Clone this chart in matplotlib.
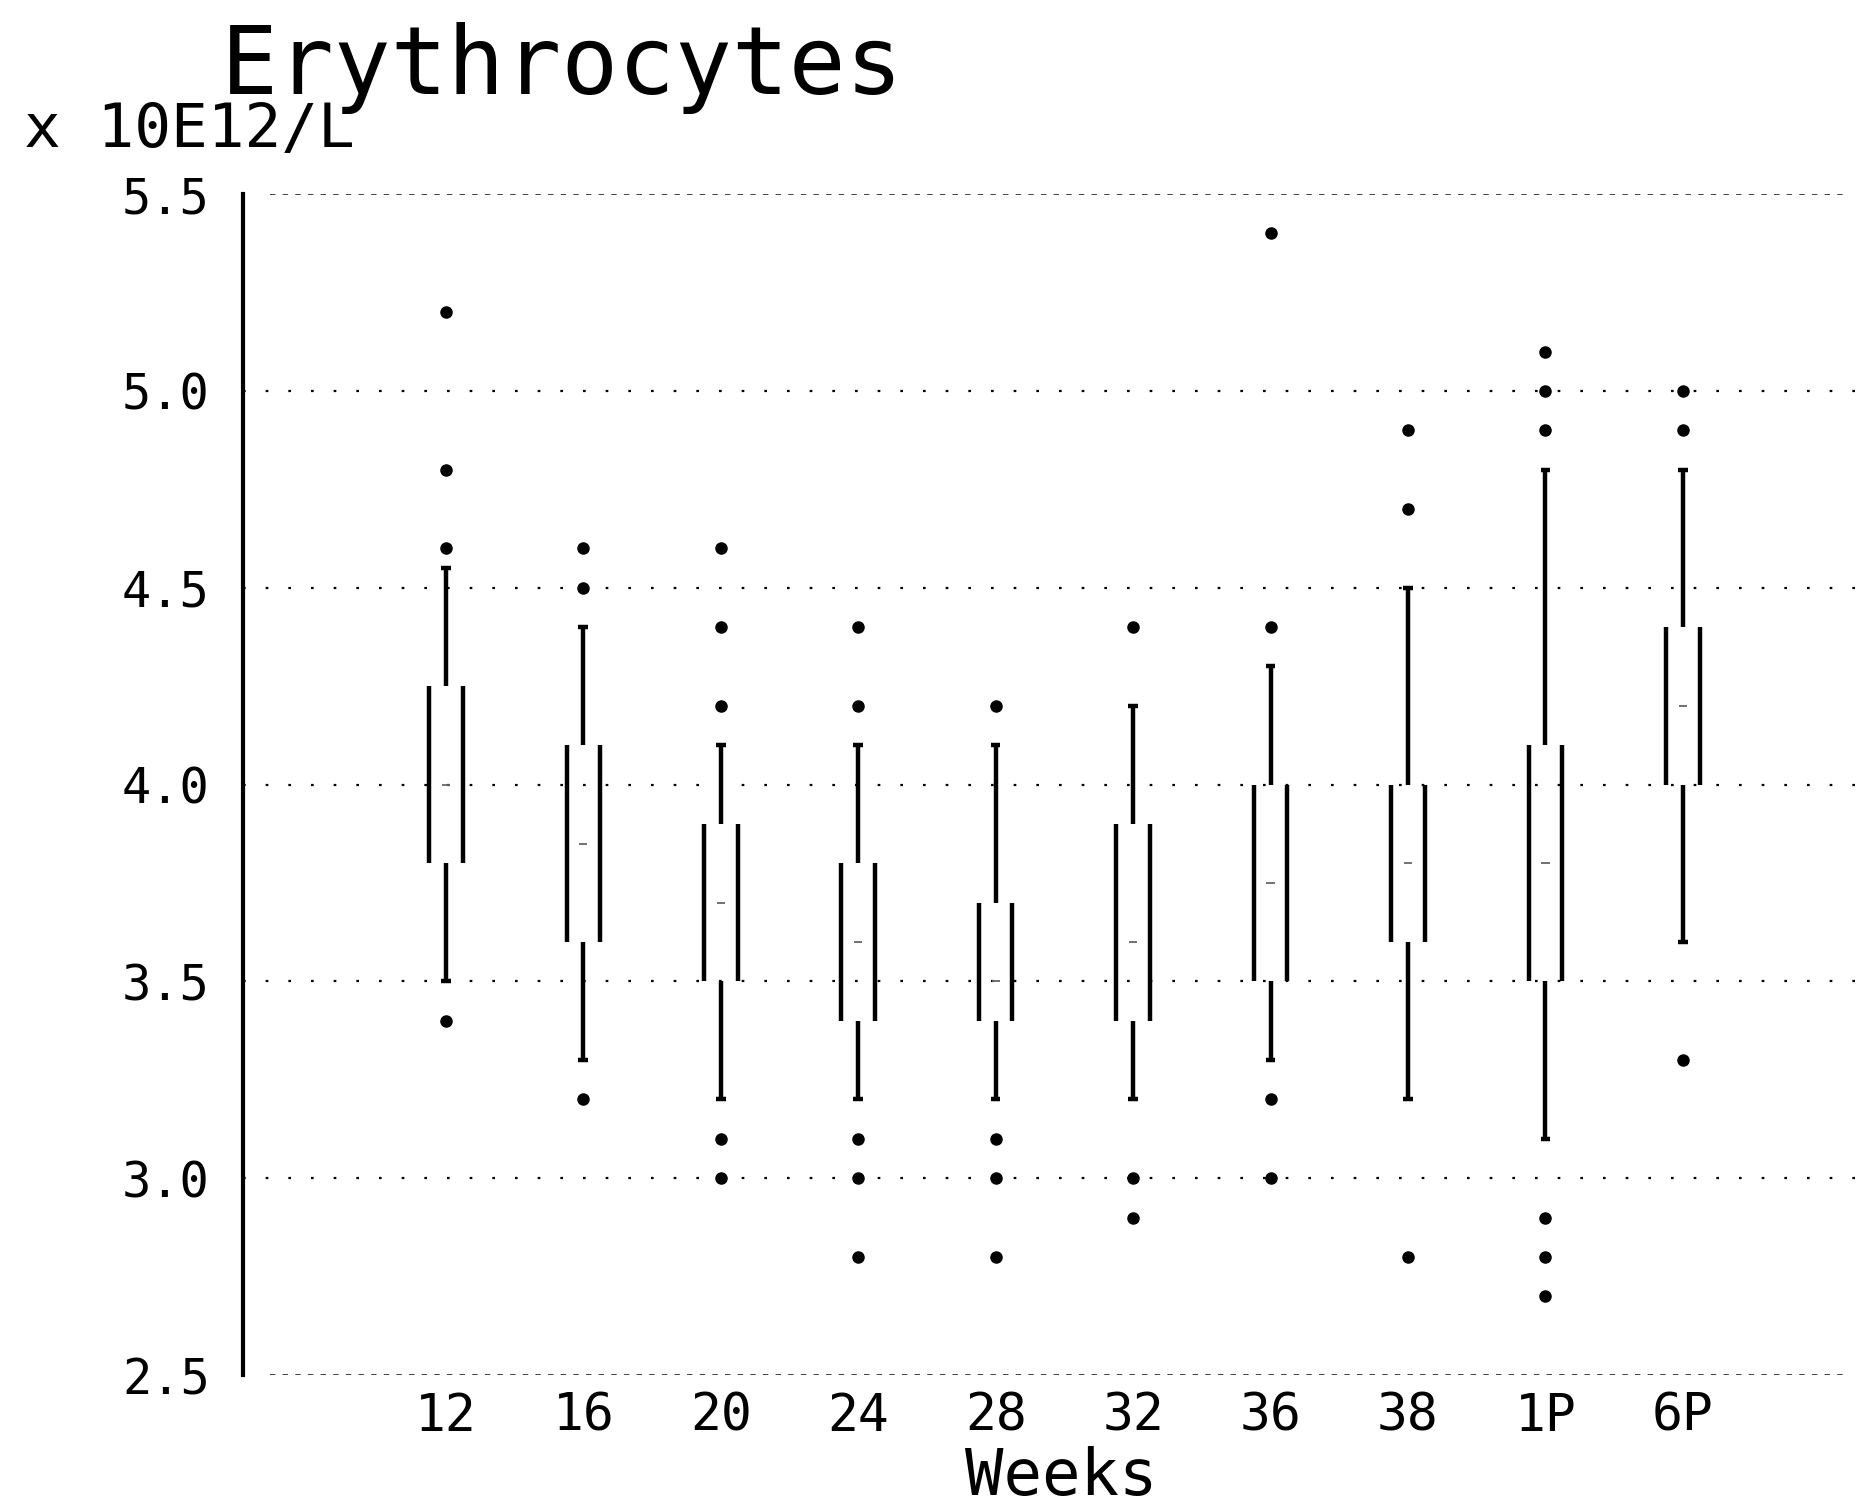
import matplotlib
matplotlib.use('Agg')
import matplotlib.pyplot as plt
import numpy as np

plt.rcParams['font.family'] = ['DejaVu Sans Mono']

weeks = ['12', '16', '20', '24', '28', '32', '36', '38', '1P', '6P']
q1 = [3.8, 3.6, 3.5, 3.4, 3.4, 3.4, 3.5, 3.6, 3.5, 4.0]
q3 = [4.25, 4.1, 3.9, 3.8, 3.7, 3.9, 4.0, 4.0, 4.1, 4.4]
med = [4.0, 3.85, 3.7, 3.6, 3.5, 3.6, 3.75, 3.8, 3.8, 4.2]
whis_lo = [3.5, 3.3, 3.2, 3.2, 3.2, 3.2, 3.3, 3.2, 3.1, 3.6]
whis_hi = [4.55, 4.4, 4.1, 4.1, 4.1, 4.2, 4.3, 4.5, 4.8, 4.8]
outliers = [
    [5.2, 4.8, 4.6, 3.4],
    [4.6, 4.5, 3.2],
    [4.6, 4.4, 4.2, 3.1, 3.0],
    [4.4, 4.2, 3.1, 3.0, 2.8],
    [4.2, 3.1, 3.0, 2.8],
    [4.4, 3.0, 2.9],
    [5.4, 4.4, 3.2, 3.0],
    [4.9, 4.7, 2.8],
    [5.1, 5.0, 4.9, 2.9, 2.8, 2.7],
    [5.0, 4.9, 3.3],
]
yticks = [2.5, 3.0, 3.5, 4.0, 4.5, 5.0, 5.5]

fig = plt.figure(figsize=(18.75, 15.09), dpi=100)
ax = fig.add_axes([0.1296, 0.0888, 0.8654, 0.7826])

pos = np.arange(1, len(weeks) + 1)
half = 0.122
cap = 0.035
lw = 3.2

# gridlines (sparse dotted), top/bottom dashed
for y in yticks[1:-1]:
    ax.axhline(y, color='black', lw=1.6, ls=(0, (1.2, 9)), zorder=1)
for y in (yticks[0], yticks[-1]):
    ax.plot([-0.28, 11.2], [y, y], color='0.2', lw=1.3, ls=(0, (3, 4)), zorder=1)

# boxes: only the two sides are drawn
ax.vlines(pos - half, q1, q3, color='black', lw=lw, zorder=3)
ax.vlines(pos + half, q1, q3, color='black', lw=lw, zorder=3)
ax.hlines(med, pos - 0.03, pos + 0.03, color='0.4', lw=1.3, zorder=3)
# whiskers
ax.vlines(pos, q3, whis_hi, color='black', lw=lw, zorder=3)
ax.vlines(pos, whis_lo, q1, color='black', lw=lw, zorder=3)
ax.hlines(whis_hi, pos - cap, pos + cap, color='black', lw=lw, zorder=3)
ax.hlines(whis_lo, pos - cap, pos + cap, color='black', lw=lw, zorder=3)

for p, vals in zip(pos, outliers):
    ax.plot([p] * len(vals), vals, 'o', color='black', ms=8, zorder=4)

ax.set_xlim(-0.476, 11.33)
ax.set_ylim(2.5, 5.5)
ax.set_xticks(pos)
ax.set_xticklabels(weeks)
ax.set_yticks(yticks)
ax.set_yticklabels([f'{v:.1f}' for v in yticks])
ax.tick_params(axis='both', length=0)
ax.tick_params(axis='y', pad=24, labelsize=35)
ax.tick_params(axis='x', pad=12, labelsize=37)

for s in ('top', 'right', 'bottom'):
    ax.spines[s].set_visible(False)
ax.spines['left'].set_linewidth(3)
ax.spines['left'].set_color('black')

fig.text(0.118, 0.938, 'Erythrocytes', fontsize=68, va='baseline', ha='left')
fig.text(0.013, 0.9026, 'x 10E12/L', fontsize=44, va='baseline', ha='left')
fig.text(0.566, 0.0093, 'Weeks', fontsize=46, va='baseline', ha='center')

fig.savefig('out.png', dpi=100, facecolor='white')
